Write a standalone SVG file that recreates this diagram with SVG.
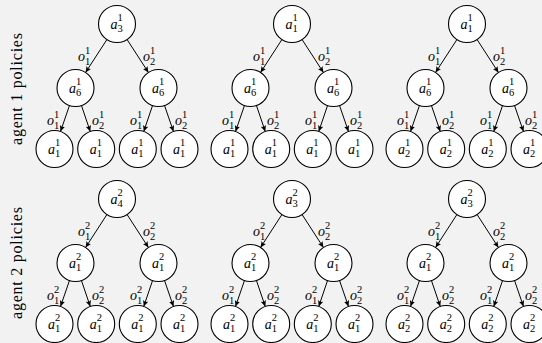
<svg xmlns="http://www.w3.org/2000/svg" width="542" height="343" viewBox="0 0 542 343" font-family="'Liberation Serif', 'DejaVu Serif', serif">
<defs>
<style>
.bg{fill:#f2f2f2}
circle{fill:#fff;stroke:#000;stroke-width:1.1}
line{stroke:#000;stroke-width:1;marker-end:url(#ah)}
text{font-family:'Liberation Serif','DejaVu Serif',serif;fill:#000}
.m{font-style:italic;font-size:14px}
.s{font-style:normal;font-size:10.5px}
.side{font-size:16px;text-anchor:middle}
</style>
<marker id="ah" markerWidth="8" markerHeight="8" refX="6" refY="3" orient="auto" markerUnits="userSpaceOnUse">
<path d="M0,0.3 L6,3 L0,5.7 L1.3,3 z" fill="#000"/>
</marker>
</defs>
<rect class="bg" x="0" y="0" width="542" height="343"/>
<text class="side" transform="translate(21.5,89) rotate(-90)" textLength="112" lengthAdjust="spacing">agent 1 policies</text>
<text class="side" transform="translate(21.5,263) rotate(-90)" textLength="112" lengthAdjust="spacing">agent 2 policies</text>

<g id="connectors">
<g id="c1" transform="translate(117,0)">
<line x1="-10.07" y1="39.52" x2="-31.43" y2="72.48"/><line x1="10.07" y1="39.52" x2="31.43" y2="72.48"/>
<line x1="-47.52" y1="105.49" x2="-56.48" y2="131.51"/><line x1="-35.56" y1="105.52" x2="-26.74" y2="131.48"/>
<line x1="35.56" y1="105.52" x2="26.74" y2="131.48"/><line x1="47.52" y1="105.49" x2="56.48" y2="131.51"/>
<text class="m"><tspan x="-39" y="61">o</tspan><tspan class="s" x="-32" y="53.5">1</tspan><tspan class="s" x="-32" y="64.5">1</tspan></text>
<text class="m"><tspan x="26" y="61">o</tspan><tspan class="s" x="33" y="53.5">1</tspan><tspan class="s" x="33" y="64.5">2</tspan></text>
<text class="m"><tspan x="-70" y="125">o</tspan><tspan class="s" x="-63" y="117.5">1</tspan><tspan class="s" x="-63" y="128.5">1</tspan></text>
<text class="m"><tspan x="-25" y="125">o</tspan><tspan class="s" x="-18" y="117.5">1</tspan><tspan class="s" x="-18" y="128.5">2</tspan></text>
<text class="m"><tspan x="13" y="125">o</tspan><tspan class="s" x="20" y="117.5">1</tspan><tspan class="s" x="20" y="128.5">1</tspan></text>
<text class="m"><tspan x="58" y="125">o</tspan><tspan class="s" x="65" y="117.5">1</tspan><tspan class="s" x="65" y="128.5">2</tspan></text>
</g>
<g id="c2" transform="translate(292,0)">
<line x1="-10.07" y1="39.52" x2="-31.43" y2="72.48"/><line x1="10.07" y1="39.52" x2="31.43" y2="72.48"/>
<line x1="-47.52" y1="105.49" x2="-56.48" y2="131.51"/><line x1="-35.56" y1="105.52" x2="-26.74" y2="131.48"/>
<line x1="35.56" y1="105.52" x2="26.74" y2="131.48"/><line x1="47.52" y1="105.49" x2="56.48" y2="131.51"/>
<text class="m"><tspan x="-39" y="61">o</tspan><tspan class="s" x="-32" y="53.5">1</tspan><tspan class="s" x="-32" y="64.5">1</tspan></text>
<text class="m"><tspan x="26" y="61">o</tspan><tspan class="s" x="33" y="53.5">1</tspan><tspan class="s" x="33" y="64.5">2</tspan></text>
<text class="m"><tspan x="-70" y="125">o</tspan><tspan class="s" x="-63" y="117.5">1</tspan><tspan class="s" x="-63" y="128.5">1</tspan></text>
<text class="m"><tspan x="-25" y="125">o</tspan><tspan class="s" x="-18" y="117.5">1</tspan><tspan class="s" x="-18" y="128.5">2</tspan></text>
<text class="m"><tspan x="13" y="125">o</tspan><tspan class="s" x="20" y="117.5">1</tspan><tspan class="s" x="20" y="128.5">1</tspan></text>
<text class="m"><tspan x="58" y="125">o</tspan><tspan class="s" x="65" y="117.5">1</tspan><tspan class="s" x="65" y="128.5">2</tspan></text>
</g>
<g id="c3" transform="translate(467,0)">
<line x1="-10.07" y1="39.52" x2="-31.43" y2="72.48"/><line x1="10.07" y1="39.52" x2="31.43" y2="72.48"/>
<line x1="-47.52" y1="105.49" x2="-56.48" y2="131.51"/><line x1="-35.56" y1="105.52" x2="-26.74" y2="131.48"/>
<line x1="35.56" y1="105.52" x2="26.74" y2="131.48"/><line x1="47.52" y1="105.49" x2="56.48" y2="131.51"/>
<text class="m"><tspan x="-39" y="61">o</tspan><tspan class="s" x="-32" y="53.5">1</tspan><tspan class="s" x="-32" y="64.5">1</tspan></text>
<text class="m"><tspan x="26" y="61">o</tspan><tspan class="s" x="33" y="53.5">1</tspan><tspan class="s" x="33" y="64.5">2</tspan></text>
<text class="m"><tspan x="-70" y="125">o</tspan><tspan class="s" x="-63" y="117.5">1</tspan><tspan class="s" x="-63" y="128.5">1</tspan></text>
<text class="m"><tspan x="-25" y="125">o</tspan><tspan class="s" x="-18" y="117.5">1</tspan><tspan class="s" x="-18" y="128.5">2</tspan></text>
<text class="m"><tspan x="13" y="125">o</tspan><tspan class="s" x="20" y="117.5">1</tspan><tspan class="s" x="20" y="128.5">1</tspan></text>
<text class="m"><tspan x="58" y="125">o</tspan><tspan class="s" x="65" y="117.5">1</tspan><tspan class="s" x="65" y="128.5">2</tspan></text>
</g>
<g id="c4" transform="translate(117,175)">
<line x1="-10.07" y1="39.52" x2="-31.43" y2="72.48"/><line x1="10.07" y1="39.52" x2="31.43" y2="72.48"/>
<line x1="-47.52" y1="105.49" x2="-56.48" y2="131.51"/><line x1="-35.56" y1="105.52" x2="-26.74" y2="131.48"/>
<line x1="35.56" y1="105.52" x2="26.74" y2="131.48"/><line x1="47.52" y1="105.49" x2="56.48" y2="131.51"/>
<text class="m"><tspan x="-39" y="61">o</tspan><tspan class="s" x="-32" y="53.5">2</tspan><tspan class="s" x="-32" y="64.5">1</tspan></text>
<text class="m"><tspan x="26" y="61">o</tspan><tspan class="s" x="33" y="53.5">2</tspan><tspan class="s" x="33" y="64.5">2</tspan></text>
<text class="m"><tspan x="-70" y="125">o</tspan><tspan class="s" x="-63" y="117.5">2</tspan><tspan class="s" x="-63" y="128.5">1</tspan></text>
<text class="m"><tspan x="-25" y="125">o</tspan><tspan class="s" x="-18" y="117.5">2</tspan><tspan class="s" x="-18" y="128.5">2</tspan></text>
<text class="m"><tspan x="13" y="125">o</tspan><tspan class="s" x="20" y="117.5">2</tspan><tspan class="s" x="20" y="128.5">1</tspan></text>
<text class="m"><tspan x="58" y="125">o</tspan><tspan class="s" x="65" y="117.5">2</tspan><tspan class="s" x="65" y="128.5">2</tspan></text>
</g>
<g id="c5" transform="translate(292,175)">
<line x1="-10.07" y1="39.52" x2="-31.43" y2="72.48"/><line x1="10.07" y1="39.52" x2="31.43" y2="72.48"/>
<line x1="-47.52" y1="105.49" x2="-56.48" y2="131.51"/><line x1="-35.56" y1="105.52" x2="-26.74" y2="131.48"/>
<line x1="35.56" y1="105.52" x2="26.74" y2="131.48"/><line x1="47.52" y1="105.49" x2="56.48" y2="131.51"/>
<text class="m"><tspan x="-39" y="61">o</tspan><tspan class="s" x="-32" y="53.5">2</tspan><tspan class="s" x="-32" y="64.5">1</tspan></text>
<text class="m"><tspan x="26" y="61">o</tspan><tspan class="s" x="33" y="53.5">2</tspan><tspan class="s" x="33" y="64.5">2</tspan></text>
<text class="m"><tspan x="-70" y="125">o</tspan><tspan class="s" x="-63" y="117.5">2</tspan><tspan class="s" x="-63" y="128.5">1</tspan></text>
<text class="m"><tspan x="-25" y="125">o</tspan><tspan class="s" x="-18" y="117.5">2</tspan><tspan class="s" x="-18" y="128.5">2</tspan></text>
<text class="m"><tspan x="13" y="125">o</tspan><tspan class="s" x="20" y="117.5">2</tspan><tspan class="s" x="20" y="128.5">1</tspan></text>
<text class="m"><tspan x="58" y="125">o</tspan><tspan class="s" x="65" y="117.5">2</tspan><tspan class="s" x="65" y="128.5">2</tspan></text>
</g>
<g id="c6" transform="translate(467,175)">
<line x1="-10.07" y1="39.52" x2="-31.43" y2="72.48"/><line x1="10.07" y1="39.52" x2="31.43" y2="72.48"/>
<line x1="-47.52" y1="105.49" x2="-56.48" y2="131.51"/><line x1="-35.56" y1="105.52" x2="-26.74" y2="131.48"/>
<line x1="35.56" y1="105.52" x2="26.74" y2="131.48"/><line x1="47.52" y1="105.49" x2="56.48" y2="131.51"/>
<text class="m"><tspan x="-39" y="61">o</tspan><tspan class="s" x="-32" y="53.5">2</tspan><tspan class="s" x="-32" y="64.5">1</tspan></text>
<text class="m"><tspan x="26" y="61">o</tspan><tspan class="s" x="33" y="53.5">2</tspan><tspan class="s" x="33" y="64.5">2</tspan></text>
<text class="m"><tspan x="-70" y="125">o</tspan><tspan class="s" x="-63" y="117.5">2</tspan><tspan class="s" x="-63" y="128.5">1</tspan></text>
<text class="m"><tspan x="-25" y="125">o</tspan><tspan class="s" x="-18" y="117.5">2</tspan><tspan class="s" x="-18" y="128.5">2</tspan></text>
<text class="m"><tspan x="13" y="125">o</tspan><tspan class="s" x="20" y="117.5">2</tspan><tspan class="s" x="20" y="128.5">1</tspan></text>
<text class="m"><tspan x="58" y="125">o</tspan><tspan class="s" x="65" y="117.5">2</tspan><tspan class="s" x="65" y="128.5">2</tspan></text>
</g>
</g>

<g id="t1-root" transform="translate(117,24)"><circle r="18.5"/><text class="m"><tspan x="-6.5" y="4.5">a</tspan><tspan class="s" x="0.5" y="-3.5">1</tspan><tspan class="s" x="0.5" y="8">3</tspan></text></g>
<g id="t1-l" transform="translate(75.5,88)"><circle r="18.5"/><text class="m"><tspan x="-6.5" y="4.5">a</tspan><tspan class="s" x="0.5" y="-3.5">1</tspan><tspan class="s" x="0.5" y="8">6</tspan></text></g>
<g id="t1-r" transform="translate(158.5,88)"><circle r="18.5"/><text class="m"><tspan x="-6.5" y="4.5">a</tspan><tspan class="s" x="0.5" y="-3.5">1</tspan><tspan class="s" x="0.5" y="8">6</tspan></text></g>
<g id="t1-ll" transform="translate(54.5,149)"><circle r="18.5"/><text class="m"><tspan x="-6.5" y="4.5">a</tspan><tspan class="s" x="0.5" y="-3.5">1</tspan><tspan class="s" x="0.5" y="8">1</tspan></text></g>
<g id="t1-lr" transform="translate(96.2,149)"><circle r="18.5"/><text class="m"><tspan x="-6.5" y="4.5">a</tspan><tspan class="s" x="0.5" y="-3.5">1</tspan><tspan class="s" x="0.5" y="8">1</tspan></text></g>
<g id="t1-rl" transform="translate(137.8,149)"><circle r="18.5"/><text class="m"><tspan x="-6.5" y="4.5">a</tspan><tspan class="s" x="0.5" y="-3.5">1</tspan><tspan class="s" x="0.5" y="8">1</tspan></text></g>
<g id="t1-rr" transform="translate(179.5,149)"><circle r="18.5"/><text class="m"><tspan x="-6.5" y="4.5">a</tspan><tspan class="s" x="0.5" y="-3.5">1</tspan><tspan class="s" x="0.5" y="8">1</tspan></text></g>

<g id="t2-root" transform="translate(292,24)"><circle r="18.5"/><text class="m"><tspan x="-6.5" y="4.5">a</tspan><tspan class="s" x="0.5" y="-3.5">1</tspan><tspan class="s" x="0.5" y="8">1</tspan></text></g>
<g id="t2-l" transform="translate(250.5,88)"><circle r="18.5"/><text class="m"><tspan x="-6.5" y="4.5">a</tspan><tspan class="s" x="0.5" y="-3.5">1</tspan><tspan class="s" x="0.5" y="8">6</tspan></text></g>
<g id="t2-r" transform="translate(333.5,88)"><circle r="18.5"/><text class="m"><tspan x="-6.5" y="4.5">a</tspan><tspan class="s" x="0.5" y="-3.5">1</tspan><tspan class="s" x="0.5" y="8">6</tspan></text></g>
<g id="t2-ll" transform="translate(229.5,149)"><circle r="18.5"/><text class="m"><tspan x="-6.5" y="4.5">a</tspan><tspan class="s" x="0.5" y="-3.5">1</tspan><tspan class="s" x="0.5" y="8">1</tspan></text></g>
<g id="t2-lr" transform="translate(271.2,149)"><circle r="18.5"/><text class="m"><tspan x="-6.5" y="4.5">a</tspan><tspan class="s" x="0.5" y="-3.5">1</tspan><tspan class="s" x="0.5" y="8">1</tspan></text></g>
<g id="t2-rl" transform="translate(312.8,149)"><circle r="18.5"/><text class="m"><tspan x="-6.5" y="4.5">a</tspan><tspan class="s" x="0.5" y="-3.5">1</tspan><tspan class="s" x="0.5" y="8">1</tspan></text></g>
<g id="t2-rr" transform="translate(354.5,149)"><circle r="18.5"/><text class="m"><tspan x="-6.5" y="4.5">a</tspan><tspan class="s" x="0.5" y="-3.5">1</tspan><tspan class="s" x="0.5" y="8">1</tspan></text></g>

<g id="t3-root" transform="translate(467,24)"><circle r="18.5"/><text class="m"><tspan x="-6.5" y="4.5">a</tspan><tspan class="s" x="0.5" y="-3.5">1</tspan><tspan class="s" x="0.5" y="8">1</tspan></text></g>
<g id="t3-l" transform="translate(425.5,88)"><circle r="18.5"/><text class="m"><tspan x="-6.5" y="4.5">a</tspan><tspan class="s" x="0.5" y="-3.5">1</tspan><tspan class="s" x="0.5" y="8">6</tspan></text></g>
<g id="t3-r" transform="translate(508.5,88)"><circle r="18.5"/><text class="m"><tspan x="-6.5" y="4.5">a</tspan><tspan class="s" x="0.5" y="-3.5">1</tspan><tspan class="s" x="0.5" y="8">6</tspan></text></g>
<g id="t3-ll" transform="translate(404.5,149)"><circle r="18.5"/><text class="m"><tspan x="-6.5" y="4.5">a</tspan><tspan class="s" x="0.5" y="-3.5">1</tspan><tspan class="s" x="0.5" y="8">2</tspan></text></g>
<g id="t3-lr" transform="translate(446.2,149)"><circle r="18.5"/><text class="m"><tspan x="-6.5" y="4.5">a</tspan><tspan class="s" x="0.5" y="-3.5">1</tspan><tspan class="s" x="0.5" y="8">2</tspan></text></g>
<g id="t3-rl" transform="translate(487.8,149)"><circle r="18.5"/><text class="m"><tspan x="-6.5" y="4.5">a</tspan><tspan class="s" x="0.5" y="-3.5">1</tspan><tspan class="s" x="0.5" y="8">2</tspan></text></g>
<g id="t3-rr" transform="translate(529.5,149)"><circle r="18.5"/><text class="m"><tspan x="-6.5" y="4.5">a</tspan><tspan class="s" x="0.5" y="-3.5">1</tspan><tspan class="s" x="0.5" y="8">2</tspan></text></g>

<g id="t4-root" transform="translate(117,199)"><circle r="18.5"/><text class="m"><tspan x="-6.5" y="4.5">a</tspan><tspan class="s" x="0.5" y="-3.5">2</tspan><tspan class="s" x="0.5" y="8">4</tspan></text></g>
<g id="t4-l" transform="translate(75.5,263)"><circle r="18.5"/><text class="m"><tspan x="-6.5" y="4.5">a</tspan><tspan class="s" x="0.5" y="-3.5">2</tspan><tspan class="s" x="0.5" y="8">1</tspan></text></g>
<g id="t4-r" transform="translate(158.5,263)"><circle r="18.5"/><text class="m"><tspan x="-6.5" y="4.5">a</tspan><tspan class="s" x="0.5" y="-3.5">2</tspan><tspan class="s" x="0.5" y="8">1</tspan></text></g>
<g id="t4-ll" transform="translate(54.5,324)"><circle r="18.5"/><text class="m"><tspan x="-6.5" y="4.5">a</tspan><tspan class="s" x="0.5" y="-3.5">2</tspan><tspan class="s" x="0.5" y="8">1</tspan></text></g>
<g id="t4-lr" transform="translate(96.2,324)"><circle r="18.5"/><text class="m"><tspan x="-6.5" y="4.5">a</tspan><tspan class="s" x="0.5" y="-3.5">2</tspan><tspan class="s" x="0.5" y="8">1</tspan></text></g>
<g id="t4-rl" transform="translate(137.8,324)"><circle r="18.5"/><text class="m"><tspan x="-6.5" y="4.5">a</tspan><tspan class="s" x="0.5" y="-3.5">2</tspan><tspan class="s" x="0.5" y="8">1</tspan></text></g>
<g id="t4-rr" transform="translate(179.5,324)"><circle r="18.5"/><text class="m"><tspan x="-6.5" y="4.5">a</tspan><tspan class="s" x="0.5" y="-3.5">2</tspan><tspan class="s" x="0.5" y="8">1</tspan></text></g>

<g id="t5-root" transform="translate(292,199)"><circle r="18.5"/><text class="m"><tspan x="-6.5" y="4.5">a</tspan><tspan class="s" x="0.5" y="-3.5">2</tspan><tspan class="s" x="0.5" y="8">3</tspan></text></g>
<g id="t5-l" transform="translate(250.5,263)"><circle r="18.5"/><text class="m"><tspan x="-6.5" y="4.5">a</tspan><tspan class="s" x="0.5" y="-3.5">2</tspan><tspan class="s" x="0.5" y="8">1</tspan></text></g>
<g id="t5-r" transform="translate(333.5,263)"><circle r="18.5"/><text class="m"><tspan x="-6.5" y="4.5">a</tspan><tspan class="s" x="0.5" y="-3.5">2</tspan><tspan class="s" x="0.5" y="8">1</tspan></text></g>
<g id="t5-ll" transform="translate(229.5,324)"><circle r="18.5"/><text class="m"><tspan x="-6.5" y="4.5">a</tspan><tspan class="s" x="0.5" y="-3.5">2</tspan><tspan class="s" x="0.5" y="8">1</tspan></text></g>
<g id="t5-lr" transform="translate(271.2,324)"><circle r="18.5"/><text class="m"><tspan x="-6.5" y="4.5">a</tspan><tspan class="s" x="0.5" y="-3.5">2</tspan><tspan class="s" x="0.5" y="8">1</tspan></text></g>
<g id="t5-rl" transform="translate(312.8,324)"><circle r="18.5"/><text class="m"><tspan x="-6.5" y="4.5">a</tspan><tspan class="s" x="0.5" y="-3.5">2</tspan><tspan class="s" x="0.5" y="8">1</tspan></text></g>
<g id="t5-rr" transform="translate(354.5,324)"><circle r="18.5"/><text class="m"><tspan x="-6.5" y="4.5">a</tspan><tspan class="s" x="0.5" y="-3.5">2</tspan><tspan class="s" x="0.5" y="8">1</tspan></text></g>

<g id="t6-root" transform="translate(467,199)"><circle r="18.5"/><text class="m"><tspan x="-6.5" y="4.5">a</tspan><tspan class="s" x="0.5" y="-3.5">2</tspan><tspan class="s" x="0.5" y="8">3</tspan></text></g>
<g id="t6-l" transform="translate(425.5,263)"><circle r="18.5"/><text class="m"><tspan x="-6.5" y="4.5">a</tspan><tspan class="s" x="0.5" y="-3.5">2</tspan><tspan class="s" x="0.5" y="8">1</tspan></text></g>
<g id="t6-r" transform="translate(508.5,263)"><circle r="18.5"/><text class="m"><tspan x="-6.5" y="4.5">a</tspan><tspan class="s" x="0.5" y="-3.5">2</tspan><tspan class="s" x="0.5" y="8">1</tspan></text></g>
<g id="t6-ll" transform="translate(404.5,324)"><circle r="18.5"/><text class="m"><tspan x="-6.5" y="4.5">a</tspan><tspan class="s" x="0.5" y="-3.5">2</tspan><tspan class="s" x="0.5" y="8">2</tspan></text></g>
<g id="t6-lr" transform="translate(446.2,324)"><circle r="18.5"/><text class="m"><tspan x="-6.5" y="4.5">a</tspan><tspan class="s" x="0.5" y="-3.5">2</tspan><tspan class="s" x="0.5" y="8">2</tspan></text></g>
<g id="t6-rl" transform="translate(487.8,324)"><circle r="18.5"/><text class="m"><tspan x="-6.5" y="4.5">a</tspan><tspan class="s" x="0.5" y="-3.5">2</tspan><tspan class="s" x="0.5" y="8">2</tspan></text></g>
<g id="t6-rr" transform="translate(529.5,324)"><circle r="18.5"/><text class="m"><tspan x="-6.5" y="4.5">a</tspan><tspan class="s" x="0.5" y="-3.5">2</tspan><tspan class="s" x="0.5" y="8">2</tspan></text></g>
</svg>
